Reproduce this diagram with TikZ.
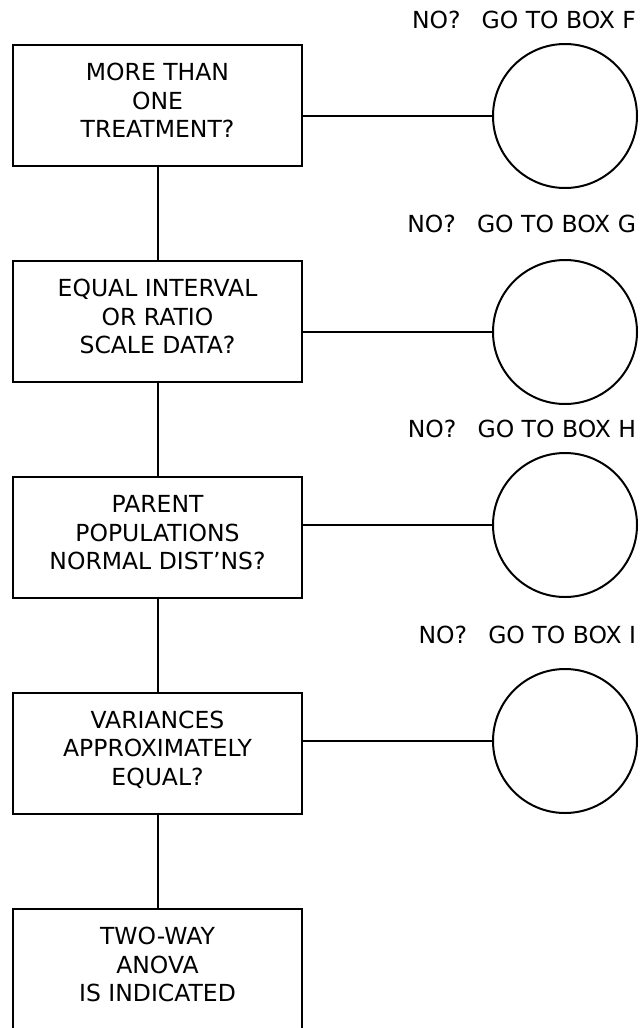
\documentclass[tikz,border=0pt]{standalone}
\usepackage{fontspec}
\setmainfont{DejaVu Sans}
\usetikzlibrary{positioning}

\begin{document}
\begin{tikzpicture}[x=1pt, y=-1pt, line width=2pt,
    qbox/.style={draw, minimum width=289pt, minimum height=121pt, inner sep=0pt},
    qtext/.style={align=center, inner sep=0pt, font=\fontsize{23.5}{28.5}\selectfont},
    exitcirc/.style={draw, circle, minimum size=144pt, inner sep=0pt},
    nolabel/.style={anchor=east, inner sep=0pt, text depth=0pt, font=\fontsize{23.5}{28.5}\selectfont}]
    \useasboundingbox (0,0) rectangle (644,1028);
    \clip (0,0) rectangle (644,1028);
    % question boxes
    \node[qbox] (q1) at (157.5,105.5) {};
    \node[qbox] (q2) at (157.5,321.5) {};
    \node[qbox] (q3) at (157.5,537.5) {};
    \node[qbox] (q4) at (157.5,753) {};
    \node[qbox, minimum height=140pt] (q5) at (157.5,979) {};
    \node[qtext, below=18.5pt of q1.north] (t1) {MORE THAN\\ONE\\TREATMENT?};
    \node[qtext, below=18.5pt of q2.north] (t2) {EQUAL INTERVAL\\OR RATIO\\SCALE DATA?};
    \node[qtext, below=18.5pt of q3.north] (t3) {PARENT\\POPULATIONS\\NORMAL DIST’NS?};
    \node[qtext, below=18.5pt of q4.north] (t4) {VARIANCES\\APPROXIMATELY\\EQUAL?};
    \node[qtext, below=18.5pt of q5.north] (t5) {TWO-WAY\\ANOVA\\IS INDICATED};
    % exit circles
    \node[exitcirc] (c1) at (565,116) {};
    \node[exitcirc] (c2) at (565,332) {};
    \node[exitcirc] (c3) at (565,525) {};
    \node[exitcirc] (c4) at (565,741) {};
    \node[nolabel] (n1) at (637,20) {NO?\hspace{0.9em}GO TO BOX F};
    \node[nolabel] (n2) at (637,224) {NO?\hspace{0.9em}GO TO BOX G};
    \node[nolabel] (n3) at (637,429) {NO?\hspace{0.9em}GO TO BOX H};
    \node[nolabel] (n4) at (637,635) {NO?\hspace{0.9em}GO TO BOX I};
    % connectors
    \draw (q1) -- (q2);
    \draw (q2) -- (q3);
    \draw (q3) -- (q4);
    \draw (q4) -- (q5);
    \draw (q1.east |- c1) -- (c1);
    \draw (q2.east |- c2) -- (c2);
    \draw (q3.east |- c3) -- (c3);
    \draw (q4.east |- c4) -- (c4);
\end{tikzpicture}
\end{document}
